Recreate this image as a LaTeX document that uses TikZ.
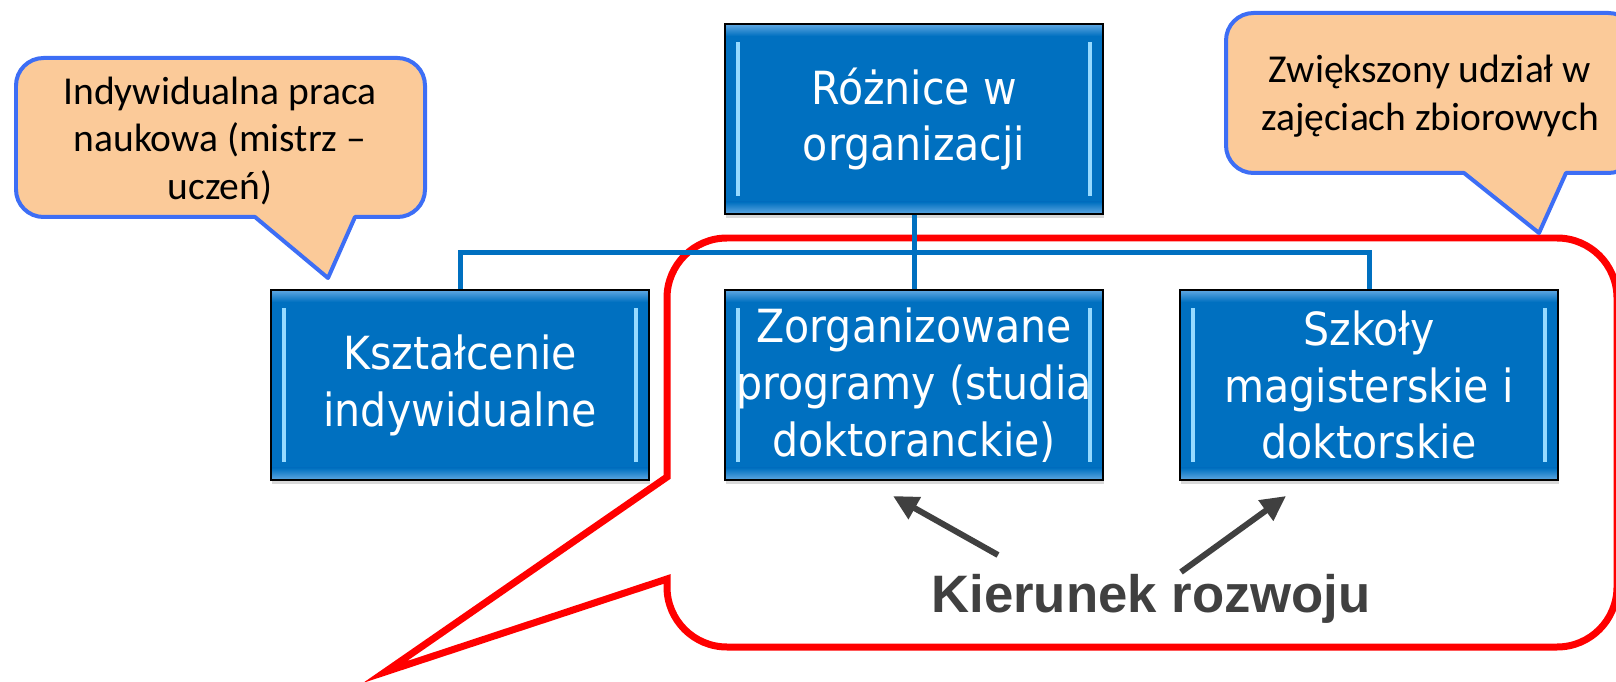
\documentclass[tikz,border=0pt]{standalone}
\usepackage{fontspec}
\usepackage{tikz}
\usetikzlibrary{calc}
\usetikzlibrary{shadows,arrows.meta}
\newfontfamily\boxfont[FakeStretch=0.9]{DejaVu Sans}
\newfontfamily\callfont{Carlito}
\newfontfamily\kierfont{Liberation Sans}
\definecolor{boxblue}{RGB}{0,112,192}
\definecolor{boxhi}{RGB}{96,168,226}
\definecolor{bevelcyan}{RGB}{150,218,255}
\definecolor{callfill}{RGB}{251,202,153}
\definecolor{callline}{RGB}{61,110,245}
\definecolor{kiergray}{RGB}{64,64,64}

\begin{document}
\begin{tikzpicture}[x=0.02cm,y=-0.02cm,
  orgbox/.style={rectangle,draw=black,line width=0.03cm,fill=boxblue,text=white,
    font=\boxfont\fontsize{26}{32.4}\selectfont,align=center,inner sep=0pt,
    minimum width=7.56cm,minimum height=3.8cm,
    drop shadow={shadow xshift=0.02cm,shadow yshift=-0.08cm,opacity=0.3},
    path picture={
      \path (path picture bounding box.south west) coordinate (bsw)
            (path picture bounding box.north east) coordinate (bne);
      \shade[top color=boxhi,bottom color=boxblue] (bsw |- bne) rectangle ($(bne)+(0,-0.24cm)$);
      \shade[top color=boxblue,bottom color=boxhi] (bsw) rectangle ($(bsw -| bne)+(0,0.24cm)$);
      \draw[bevelcyan,line width=0.09cm] ($(bsw)+(0.26cm,0.36cm)$) -- ($(bsw |- bne)+(0.26cm,-0.36cm)$);
      \draw[bevelcyan,line width=0.09cm] ($(bsw -| bne)+(-0.26cm,0.36cm)$) -- ($(bne)+(-0.26cm,-0.36cm)$);
    }},
  orgline/.style={draw=boxblue,line width=0.1cm},
  callout/.style={fill=callfill,draw=callline,line width=0.08cm,line join=round},
  calltext/.style={font=\callfont\fontsize{22.5}{27.3}\selectfont,align=center,inner sep=0pt},
  bubble/.style={draw=red,line width=0.14cm},
  kiertext/.style={font=\kierfont\bfseries\fontsize{30}{36}\selectfont,text=kiergray,inner sep=0pt},
  dirarrow/.style={draw=kiergray,line width=0.12cm,-{Triangle[length=0.5cm,width=0.48cm]}}
]
\useasboundingbox (0,0) rectangle (1616,682);
\clip (0,0) rectangle (1616,682);

\draw[bubble] (385,672) -- (667,579) [rounded corners=1.2cm] -- (667,647) -- (1617,647) -- (1617,238) -- (667,238) [sharp corners] -- (667,477) -- cycle;	% roter Rahmen

\coordinate (hub) at (914,253);
\node[orgbox] (roznice) at (914,119) {Różnice w\\organizacji};
\node[orgbox] (ksztal) at (460,385) {Kształcenie\\indywidualne};
\node[orgbox] (zorg) at (914,385) {Zorganizowane\\programy (studia\\doktoranckie)};
\node[orgbox] (szkoly) at (1369,385) {Szkoły\\magisterskie i\\doktorskie};

\draw[orgline] (roznice.south) -- (hub);										% Stamm
\draw[orgline] (ksztal.north) |- (hub) -| (szkoly.north);						% Querlinie
\draw[orgline] (hub) -- (zorg.north);											% Mitte

\draw[callout] (328,278) -- (355,217) [rounded corners=0.55cm] -- (425,217) -- (425,58) -- (16,58) -- (16,217) [sharp corners] -- (255,217) -- cycle;		% Sprechblase links
\node[calltext] (indyw) at (220,141) {Indywidualna praca\\naukowa (mistrz –\\uczeń)};
\draw[callout] (1539,233) -- (1566,173) [rounded corners=0.55cm] -- (1636,173) -- (1636,13) -- (1226,13) -- (1226,173) [sharp corners] -- (1464,173) -- cycle;	% Sprechblase rechts
\node[calltext] (zwiek) at (1430,96) {Zwiększony udział w\\zajęciach zbiorowych};

\node[kiertext,anchor=base] (kier) at (1151,612) {Kierunek rozwoju};
\coordinate (kierL) at (998,555);
\coordinate (kierR) at (1181,572);
\coordinate (zorgtip) at (893,496);
\coordinate (szktip) at (1286,496);
\draw[dirarrow] (kierL) -- (zorgtip);											% Pfeil links
\draw[dirarrow] (kierR) -- (szktip);											% Pfeil rechts

\end{tikzpicture}
\end{document}
